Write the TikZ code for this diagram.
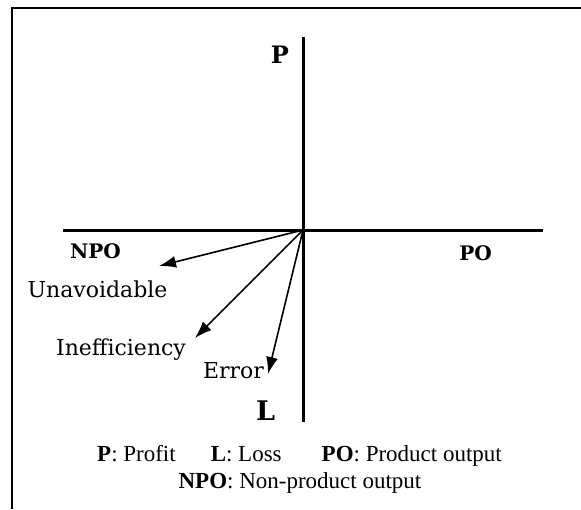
\documentclass[tikz,border=0pt]{standalone}
\usepackage{fontspec}
\setmainfont{Liberation Serif}
\newfontfamily\labelfont{DejaVu Serif}
\usetikzlibrary{arrows.meta}
\begin{document}
\begin{tikzpicture}[x=1pt,y=-1pt,
  axis/.style={line width=3pt},
  frame/.style={line width=2pt},
  vec/.style={line width=1.6pt,-{Latex[length=17pt,width=12pt]}},
  lbl/.style={inner sep=0pt,anchor=base,font=\labelfont\fontsize{22}{26}\selectfont},
  blbl/.style={inner sep=0pt,anchor=base,font=\labelfont\bfseries\fontsize{20}{24}\selectfont},
  legend/.style={inner sep=0pt,font=\fontsize{23}{27}\selectfont}]
\useasboundingbox (0,0) rectangle (581,509);
% frame (left and top edges)
\coordinate (fb) at (12,509);
\coordinate (fc) at (12,7.5);
\coordinate (fr) at (581,7.5);
\draw[frame] (fb) -- (fc) -- (fr);
% axes
\coordinate (O) at (303,230);
\coordinate (top) at (303,37);
\coordinate (bot) at (303,422);
\coordinate (lft) at (63,230);
\coordinate (rgt) at (543,230);
\draw[axis] (top) -- (bot);
\draw[axis] (lft) -- (rgt);
% output vectors
\coordinate (tu) at (159,266);
\coordinate (ti) at (195,338);
\coordinate (te) at (268,374);
\draw[vec] (O) -- (tu);
\draw[vec] (O) -- (ti);
\draw[vec] (O) -- (te);
% axis labels
\node[blbl,font=\labelfont\bfseries\fontsize{24}{28}\selectfont] (P) at (280,63) {P};
\node[blbl,font=\labelfont\bfseries\fontsize{27}{31}\selectfont] (L) at (265.5,420) {L};
\node[blbl] (NPO) at (95.5,258) {NPO};
\node[blbl] (PO) at (475.5,260) {PO};
% vector labels
\node[lbl] (un) at (97.5,297) {Unavoidable};
\node[lbl] (in) at (121,355) {Inefficiency};
\node[lbl] (er) at (233.5,378) {Error};
% legend
\node[legend,anchor=base west] (leg1) at (97,461) {\textbf{P}: Profit\hspace{35pt}\textbf{L}: Loss\hspace{40pt}\textbf{PO}: Product output};
\node[legend,anchor=base] (leg2) at (300,488) {\textbf{NPO}: Non-product output};
\end{tikzpicture}
\end{document}
